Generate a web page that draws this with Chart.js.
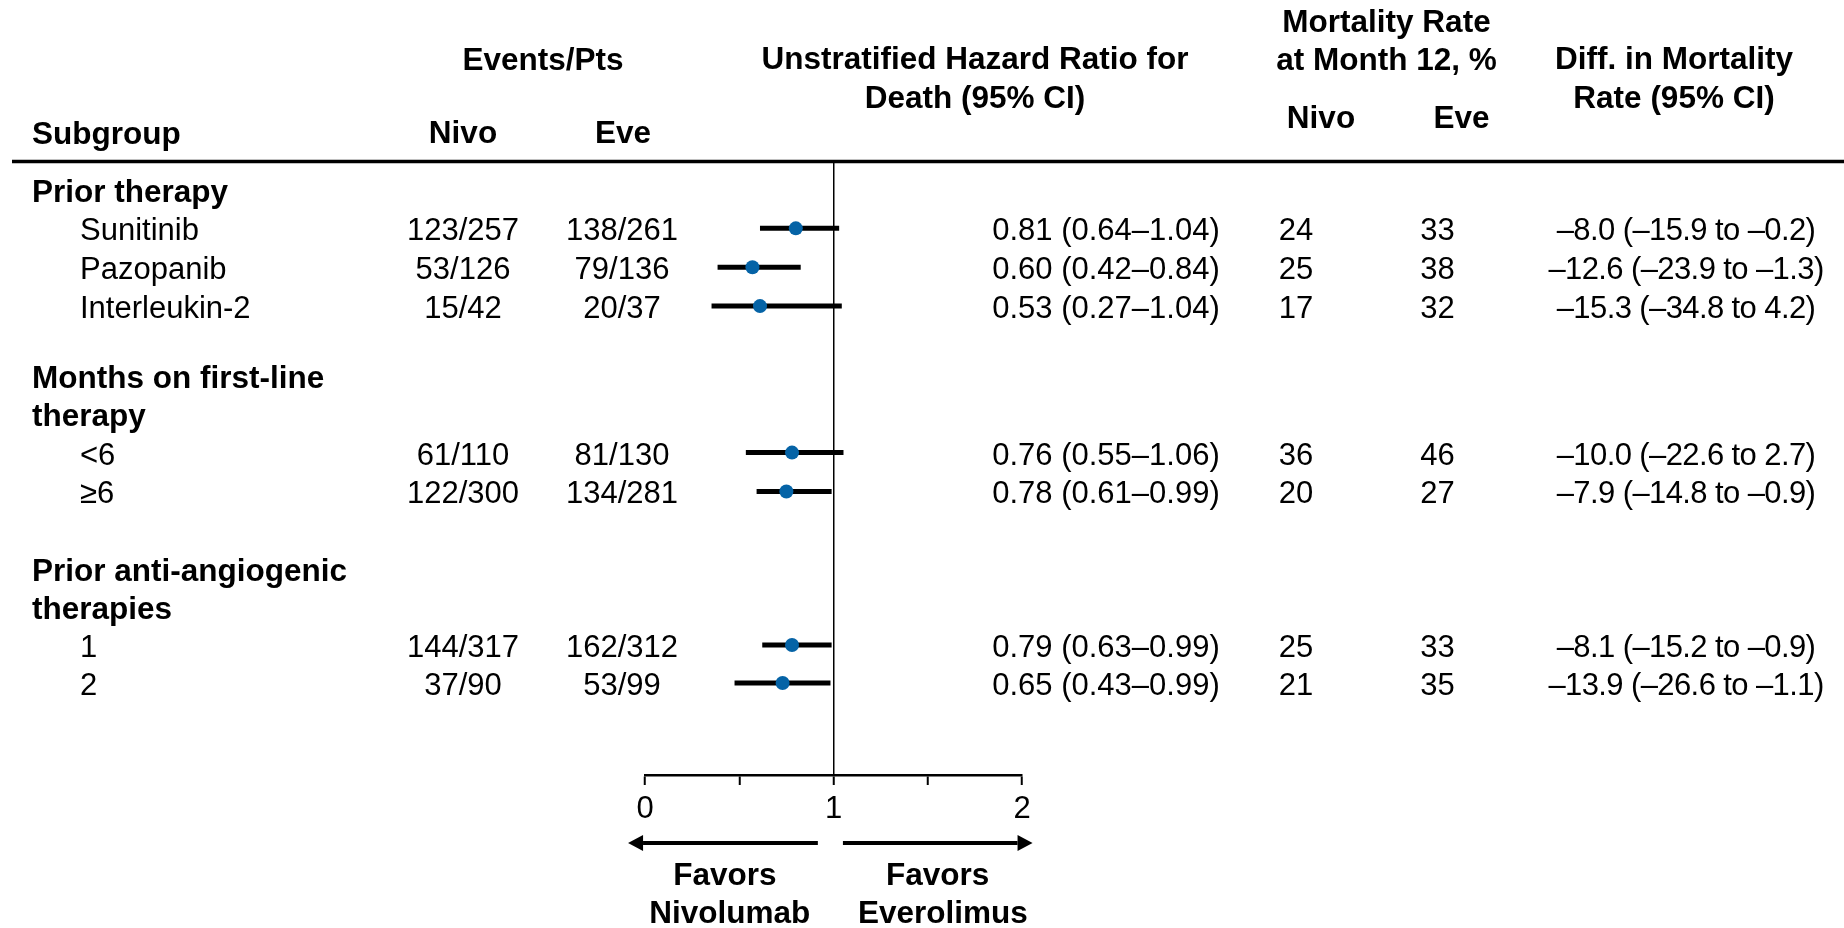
<!DOCTYPE html>
<html>
<head>
<meta charset="utf-8">
<script src="https://cdn.jsdelivr.net/npm/chart.js@4"></script>
<style>
  html, body { margin: 0; padding: 0; background: #fff; }
</style>
</head>
<body>
<canvas id="forest" width="1844" height="928"></canvas>
<script>
const FONT = '"Liberation Sans", Arial, Helvetica, sans-serif';

// left column rows (label, vertical slot, bold = group heading)
const rowLabels = ['Prior therapy', 'Sunitinib', 'Pazopanib', 'Interleukin-2',
  'Months on first-line', 'therapy', '<6', '\u22656',
  'Prior anti-angiogenic', 'therapies', '1', '2'];
const rowPos = [0, 1, 2, 3, 4.8, 5.77, 6.77, 7.77, 9.76, 10.74, 11.72, 12.7];
const rowBold = [true, false, false, false, true, true, false, false, true, true, false, false];

// subgroups that carry data (index into rowLabels)
const subRow = [1, 2, 3, 6, 7, 10, 11];
const nivoEvents = ['123/257', '53/126', '15/42', '61/110', '122/300', '144/317', '37/90'];
const eveEvents = ['138/261', '79/136', '20/37', '81/130', '134/281', '162/312', '53/99'];
const hrText = ['0.81 (0.64\u20131.04)', '0.60 (0.42\u20130.84)', '0.53 (0.27\u20131.04)',
  '0.76 (0.55\u20131.06)', '0.78 (0.61\u20130.99)', '0.79 (0.63\u20130.99)', '0.65 (0.43\u20130.99)'];
const nivoRate = [24, 25, 17, 36, 20, 25, 21];
const eveRate = [33, 38, 32, 46, 27, 33, 35];
const diffText = ['\u20138.0 (\u201315.9 to \u20130.2)', '\u201312.6 (\u201323.9 to \u20131.3)',
  '\u201315.3 (\u201334.8 to 4.2)', '\u201310.0 (\u201322.6 to 2.7)', '\u20137.9 (\u201314.8 to \u20130.9)',
  '\u20138.1 (\u201315.2 to \u20130.9)', '\u201313.9 (\u201326.6 to \u20131.1)'];

// hazard ratio marks as drawn in the figure
const hrPoint = [0.80, 0.57, 0.61, 0.78, 0.75, 0.78, 0.73];
const hrLow = [0.61, 0.385, 0.353, 0.535, 0.592, 0.622, 0.475];
const hrHigh = [1.03, 0.826, 1.044, 1.053, 0.99, 0.99, 0.984];

const xTicks = [0, 1, 2];

const ciSets = subRow.map((r, k) => ({
  type: 'scatter',
  data: [{ x: hrLow[k], y: rowPos[r] }, { x: hrHigh[k], y: rowPos[r] }],
  showLine: true,
  borderColor: '#000',
  borderWidth: 5,
  borderCapStyle: 'butt',
  pointRadius: 0,
  order: 2
}));

const pointSet = {
  type: 'scatter',
  data: subRow.map((r, k) => ({ x: hrPoint[k], y: rowPos[r] })),
  pointRadius: 7,
  pointBackgroundColor: '#0563a6',
  pointBorderWidth: 0,
  order: 1
};

function arrow(ctx, x0, x1, y) {
  const dir = Math.sign(x1 - x0), head = 15;
  ctx.lineWidth = 4;
  ctx.beginPath();
  ctx.moveTo(x0, y);
  ctx.lineTo(x1 - dir * head, y);
  ctx.stroke();
  ctx.beginPath();
  ctx.moveTo(x1, y);
  ctx.lineTo(x1 - dir * head, y - 8);
  ctx.lineTo(x1 - dir * head, y + 8);
  ctx.closePath();
  ctx.fill();
}

const tablePlugin = {
  id: 'forestTable',
  afterDraw(chart) {
    const ctx = chart.ctx, xs = chart.scales.x, ys = chart.scales.y;
    ctx.save();
    ctx.fillStyle = '#000';
    ctx.strokeStyle = '#000';
    ctx.textBaseline = 'alphabetic';
    const put = (s, x, y, align, bold, spacing) => {
      ctx.font = (bold ? 'bold 31.5px ' : '31px ') + FONT;
      ctx.letterSpacing = spacing || '0px';
      ctx.textAlign = align;
      ctx.fillText(s, x, y);
    };

    // column headers
    put('Subgroup', 32, 144, 'left', true);
    put('Events/Pts', 543, 70, 'center', true);
    put('Nivo', 463, 143, 'center', true);
    put('Eve', 623, 143, 'center', true);
    put('Unstratified Hazard Ratio for', 975, 68.5, 'center', true);
    put('Death (95% CI)', 975, 108, 'center', true);
    put('Mortality Rate', 1386.5, 32, 'center', true);
    put('at Month 12, %', 1386.5, 70, 'center', true);
    put('Nivo', 1321, 128, 'center', true);
    put('Eve', 1461.5, 128, 'center', true);
    put('Diff. in Mortality', 1674, 68.5, 'center', true);
    put('Rate (95% CI)', 1674, 108, 'center', true);

    ctx.lineWidth = 3.5;
    ctx.beginPath();
    ctx.moveTo(12, 161.5);
    ctx.lineTo(1844, 161.5);
    ctx.stroke();

    // subgroup labels
    rowLabels.forEach((lab, i) => {
      put(lab, rowBold[i] ? 32 : 80, ys.getPixelForValue(rowPos[i]) + 12, 'left', rowBold[i]);
    });

    // table values
    subRow.forEach((r, k) => {
      const y = ys.getPixelForValue(rowPos[r]) + 12;
      put(nivoEvents[k], 463, y, 'center');
      put(eveEvents[k], 622, y, 'center');
      put(hrText[k], 1106, y, 'center');
      put(String(nivoRate[k]), 1296, y, 'center');
      put(String(eveRate[k]), 1437.5, y, 'center');
      put(diffText[k], 1686, y, 'center', false, '-0.6px');
    });

    // favors arrows
    const ay = 843;
    arrow(ctx, xs.getPixelForValue(0.917), xs.getPixelForValue(-0.09), ay);
    arrow(ctx, xs.getPixelForValue(1.05), xs.getPixelForValue(2.056), ay);
    put('Favors', xs.getPixelForValue(0.424), 885, 'center', true);
    put('Nivolumab', xs.getPixelForValue(0.45), 923, 'center', true);
    put('Favors', xs.getPixelForValue(1.553), 885, 'center', true);
    put('Everolimus', xs.getPixelForValue(1.58), 923, 'center', true);
    ctx.restore();
  }
};

new Chart(document.getElementById('forest').getContext('2d'), {
  type: 'scatter',
  data: { datasets: [pointSet, ...ciSets] },
  options: {
    responsive: false,
    animation: false,
    layout: { padding: { left: 645, right: 822, top: 163, bottom: 93 } },
    plugins: { legend: { display: false }, tooltip: { enabled: false } },
    scales: {
      x: {
        type: 'linear',
        min: 0,
        max: 2,
        afterFit(s) { s.height = 60; },
        ticks: {
          stepSize: 0.5,
          autoSkip: false,
          maxRotation: 0,
          padding: 6,
          color: '#000',
          font: { family: FONT, size: 31 },
          callback: (v) => xTicks.includes(v) ? String(v) : ''
        },
        grid: {
          color: (c) => c.tick && c.tick.value === 1 ? '#000' : 'rgba(0,0,0,0)',
          lineWidth: 1.5,
          tickColor: '#000',
          tickLength: 10,
          tickWidth: 2
        },
        border: { color: '#000', width: 2.5 }
      },
      y: {
        type: 'linear',
        reverse: true,
        min: -0.682,
        max: 15.067,
        display: false
      }
    }
  },
  plugins: [tablePlugin]
});
</script>
</body>
</html>
